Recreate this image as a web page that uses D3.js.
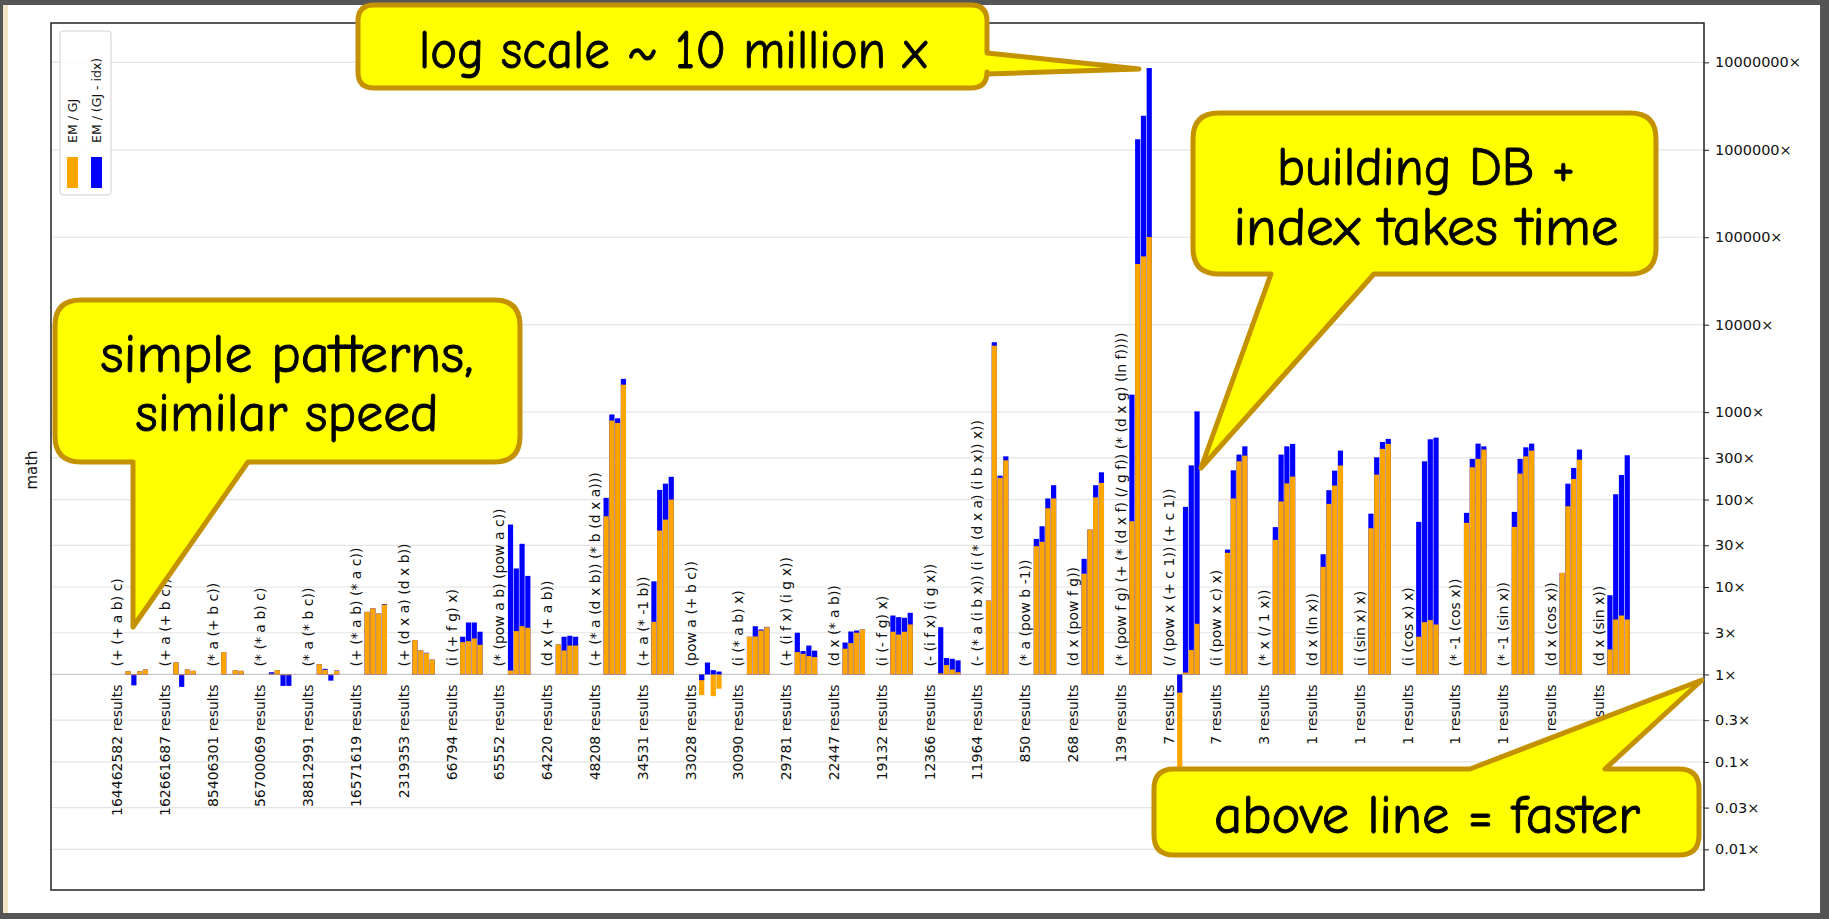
<!DOCTYPE html>
<html>
<head>
<meta charset="utf-8">
<script src="https://cdn.jsdelivr.net/npm/d3@7"></script>
<style>
  body { margin: 0; background: #555; }
  svg { display: block; }
</style>
</head>
<body>
<svg width="1829" height="919"></svg>
<script>
// Queries, one group of 4 bars each
const queries = [
  "(+ (+ a b) c)", "(+ a (+ b c))", "(* a (+ b c))", "(* (* a b) c)", "(* a (* b c))",
  "(+ (* a b) (* a c))", "(+ (d x a) (d x b))", "(i (+ f g) x)", "(* (pow a b) (pow a c))",
  "(d x (+ a b))", "(+ (* a (d x b)) (* b (d x a)))", "(+ a (* -1 b))", "(pow a (+ b c))",
  "(i (* a b) x)", "(+ (i f x) (i g x))", "(d x (* a b))", "(i (- f g) x)", "(- (i f x) (i g x))",
  "(- (* a (i b x)) (i (* (d x a) (i b x)) x))", "(* a (pow b -1))", "(d x (pow f g))",
  "(* (pow f g) (+ (* (d x f) (/ g f)) (* (d x g) (ln f))))", "(/ (pow x (+ c 1)) (+ c 1))",
  "(i (pow x c) x)", "(* x (/ 1 x))", "(d x (ln x))", "(i (sin x) x)", "(i (cos x) x)",
  "(* -1 (cos x))", "(* -1 (sin x))", "(d x (cos x))", "(d x (sin x))"
];

const results = [
  164462582, 162661687, 85406301, 56700069, 38812991, 16571619, 2319353, 66794, 65552,
  64220, 48208, 34531, 33028, 30090, 29781, 22447, 19132, 12366, 11964, 850, 268, 139,
  7, 7, 3, 1, 1, 1, 1, 1, 1, 1
];

// EM / GJ speedup (orange)
const emGj = [
  [1.09, 0.98, 1.09, 1.14], [1.37, 0.98, 1.14, 1.10], [1.80, 1.01, 1.12, 1.10],
  [1.02, 1.12, 0.98, 0.98], [1.31, 1.13, 0.98, 1.10], [5.2, 5.7, 4.98, 6.3],
  [2.47, 1.88, 1.75, 1.48], [2.34, 2.40, 2.58, 2.18], [1.11, 3.13, 3.56, 3.42],
  [2.20, 1.88, 2.14, 2.14], [64.4, 800, 750, 2060], [4.0, 44.2, 59, 100],
  [0.58, 1.0, 0.565, 0.686], [2.70, 2.72, 3.18, 3.47], [1.80, 1.72, 1.62, 1.58],
  [1.97, 2.28, 3.0, 3.27], [3.08, 2.86, 3.08, 3.73], [1.03, 1.28, 1.14, 1.06],
  [7.0, 5750, 177, 281], [29.3, 32.9, 79.6, 103], [14.2, 45.4, 106, 155],
  [56.5, 49400, 60400, 100500], [0.05, 1.05, 1.9, 3.8], [24.6, 103, 274, 318],
  [34.6, 95, 153, 183], [17.0, 89.3, 144.5, 245], [47, 193, 380, 433],
  [2.70, 3.96, 4.18, 3.73], [54.2, 234, 292, 373], [48.7, 198, 312, 363],
  [14.5, 83.8, 172, 286], [1.93, 4.25, 4.72, 4.25]
];

// EM / (GJ - idx) speedup (blue)
const emGjIdx = [
  [1.09, 0.75, 1.09, 1.14], [1.37, 0.72, 1.14, 1.10], [1.80, 1.01, 1.12, 1.10],
  [1.06, 1.12, 0.74, 0.74], [1.31, 1.16, 0.85, 1.11], [5.2, 5.7, 4.98, 6.4],
  [2.47, 1.88, 1.77, 1.48], [2.70, 3.93, 3.93, 3.08], [51.8, 16.3, 31.2, 13.4],
  [2.20, 2.70, 2.77, 2.70], [104.6, 940, 850, 2400], [11.6, 129, 152, 182],
  [0.86, 1.37, 1.12, 1.08], [2.70, 3.56, 3.27, 3.5], [3.0, 1.85, 2.14, 1.87],
  [2.32, 3.10, 3.18, 3.27], [4.72, 4.52, 4.45, 5.07], [3.47, 1.54, 1.51, 1.45],
  [7.0, 6300, 188, 312], [35.5, 49.5, 103, 146], [21, 45.4, 146, 205],
  [1585, 1.32e6, 2.45e6, 8.6e6], [0.62, 82.6, 246, 1020], [26.8, 216, 327, 406],
  [48.4, 327, 406, 433], [23.7, 128, 214, 363], [69, 304, 456, 494],
  [55.6, 274, 489, 511], [70.5, 292, 436, 406], [72.3, 292, 396, 436],
  [14.5, 152, 230, 373], [8.06, 115, 191, 321]
];

const yTicks = [0.01, 0.03, 0.1, 0.3, 1, 3, 10, 30, 100, 300, 1000, 1e4, 1e5, 1e6, 1e7];
const seriesNames = ["EM / GJ", "EM / (GJ - idx)"];
const colors = ["orange", "#0000ff"];

const W = 1829, H = 919;
const plot = { left: 51, right: 1704, top: 23, bottom: 890 };

const svg = d3.select("svg");

// frame of the screenshot
svg.append("rect").attr("width", W).attr("height", H).attr("fill", "#555");
svg.append("rect").attr("x", 3).attr("y", 5).attr("width", 5).attr("height", 908).attr("fill", "#f3e4c6");
svg.append("rect").attr("x", 8).attr("y", 5).attr("width", 1812).attr("height", 908).attr("fill", "#fff");

// scales
const x = d3.scaleLinear().domain([-1.381, 33.2]).range([plot.left, plot.right]);
const inner = d3.scaleBand().domain(d3.range(4)).range([8.5, 31]).paddingInner(0.1);
const y = d3.scaleLog().domain([Math.pow(10, -2.465), Math.pow(10, 7.45)]).range([plot.bottom, plot.top]);

// gridlines
svg.append("g").selectAll("line")
  .data(yTicks)
  .join("line")
  .attr("x1", plot.left).attr("x2", plot.right)
  .attr("y1", d => y(d)).attr("y2", d => y(d))
  .attr("stroke", d => d === 1 ? "#c8c8c8" : "#e4e4e4")
  .attr("stroke-width", 1.2);

// bars: longer segment drawn first so the shorter shows on top
const bars = [];
queries.forEach((q, i) => {
  for (let j = 0; j < 4; j++) {
    const segs = [
      { v: emGjIdx[i][j], c: colors[1] },
      { v: emGj[i][j], c: colors[0] }
    ].sort((a, b) => Math.abs(Math.log(b.v)) - Math.abs(Math.log(a.v)));
    segs.forEach(s => bars.push({ i, j, v: s.v, c: s.c }));
  }
});

svg.append("g").selectAll("rect")
  .data(bars)
  .join("rect")
  .attr("x", d => x(d.i) + inner(d.j))
  .attr("width", inner.bandwidth())
  .attr("y", d => Math.min(y(1), y(d.v)))
  .attr("height", d => Math.abs(y(d.v) - y(1)))
  .attr("fill", d => d.c);

// query labels above the baseline
svg.append("g").selectAll("text")
  .data(queries)
  .join("text")
  .attr("transform", (d, i) => `translate(${x(i)},${y(1) - 8}) rotate(-90)`)
  .attr("dy", "0.35em")
  .attr("font-family", "DejaVu Sans")
  .attr("font-size", 14)
  .attr("fill", "#111")
  .text(d => d);

// result counts below the baseline
svg.append("g").selectAll("text")
  .data(results)
  .join("text")
  .attr("transform", (d, i) => `translate(${x(i)},${y(1) + 10}) rotate(-90)`)
  .attr("dy", "0.35em")
  .attr("text-anchor", "end")
  .attr("font-family", "DejaVu Sans")
  .attr("font-size", 14)
  .attr("fill", "#111")
  .text(d => d + " results");

// right axis
const yAxis = d3.axisRight(y)
  .tickValues(yTicks)
  .tickSize(5)
  .tickPadding(6)
  .tickFormat(d => (d >= 1 ? d3.format("d")(d) : String(d)) + "×");

svg.append("g")
  .attr("transform", `translate(${plot.right},0)`)
  .call(yAxis)
  .call(g => g.select(".domain").remove())
  .call(g => g.selectAll("text").attr("font-family", "DejaVu Sans").attr("font-size", 14.5).attr("fill", "#111"))
  .call(g => g.selectAll("line").attr("stroke", "#222"));

// plot frame
svg.append("rect")
  .attr("x", plot.left).attr("y", plot.top)
  .attr("width", plot.right - plot.left).attr("height", plot.bottom - plot.top)
  .attr("fill", "none").attr("stroke", "#222").attr("stroke-width", 1.5);

// y label
svg.append("text")
  .attr("transform", `translate(37,470) rotate(-90)`)
  .attr("text-anchor", "middle")
  .attr("font-family", "DejaVu Sans")
  .attr("font-size", 15)
  .attr("fill", "#111")
  .text("math");

// legend (rotated)
const legend = svg.append("g");
legend.append("rect")
  .attr("x", 60).attr("y", 31).attr("width", 51).attr("height", 164).attr("rx", 3)
  .attr("fill", "#fff").attr("fill-opacity", 0.85).attr("stroke", "#d0d0d0");
seriesNames.forEach((name, k) => {
  const cx = 72.5 + k * 24;
  legend.append("rect")
    .attr("x", cx - 5.5).attr("y", 157).attr("width", 11).attr("height", 31)
    .attr("fill", colors[k]);
  legend.append("text")
    .attr("transform", `translate(${cx},143) rotate(-90)`)
    .attr("dy", "0.35em")
    .attr("font-family", "DejaVu Sans")
    .attr("font-size", 12.5)
    .attr("fill", "#111")
    .text(name);
});

// speech bubble callouts
const callouts = [
  { lines: ["log scale ~ 10 million x"], box: [358, 5, 629, 83], r: 16,
    ptr: { side: "right", a: 53, b: 74, tip: [1139, 69] }, cx: 673, base: [68], widths: [508] },
  { lines: ["simple patterns,", "similar speed"], box: [55, 300, 465, 162], r: 26,
    ptr: { side: "bottom", a: 133, b: 248, tip: [133, 627] }, cx: 287, base: [372, 431], widths: [373, 303] },
  { lines: ["building DB +", "index takes time"], box: [1193, 113, 463, 161], r: 26,
    ptr: { side: "bottom", a: 1271, b: 1374, tip: [1201, 468] }, cx: 1426, base: [185, 245], widths: [298, 385] },
  { lines: ["above line = faster"], box: [1154, 769, 545, 86], r: 20,
    ptr: { side: "top", a: 1470, b: 1605, tip: [1702, 680] }, cx: 1427, base: [833], widths: [426] }
];

function bubblePath(c) {
  const [bx, by, bw, bh] = c.box, r = c.r, p = c.ptr;
  const t = `L${p.tip[0]},${p.tip[1]}`;
  let s = `M${bx + r},${by}`;
  if (p.side === "top") s += `L${p.a},${by}${t}L${p.b},${by}`;
  s += `L${bx + bw - r},${by}Q${bx + bw},${by} ${bx + bw},${by + r}`;
  if (p.side === "right") s += `L${bx + bw},${p.a}${t}L${bx + bw},${p.b}`;
  s += `L${bx + bw},${by + bh - r}Q${bx + bw},${by + bh} ${bx + bw - r},${by + bh}`;
  if (p.side === "bottom") s += `L${p.b},${by + bh}${t}L${p.a},${by + bh}`;
  s += `L${bx + r},${by + bh}Q${bx},${by + bh} ${bx},${by + bh - r}`;
  s += `L${bx},${by + r}Q${bx},${by} ${bx + r},${by}Z`;
  return s;
}

const cg = svg.append("g");
callouts.forEach(c => {
  cg.append("path")
    .attr("d", bubblePath(c))
    .attr("fill", "#ffff00")
    .attr("stroke", "#c49200")
    .attr("stroke-width", 5)
    .attr("stroke-linejoin", "round");
  c.lines.forEach((line, k) => {
    cg.append("text")
      .attr("x", c.cx).attr("y", c.base[k])
      .attr("text-anchor", "middle")
      .attr("font-family", "'Comic Sans MS', 'Comic Neue', Lato, sans-serif")
      .attr("font-size", 54)
      .attr("textLength", c.widths[k])
      .attr("lengthAdjust", "spacingAndGlyphs")
      .attr("fill", "#000")
      .attr("stroke", "#000")
      .attr("stroke-width", 0.9)
      .text(line);
  });
});
</script>
</body>
</html>
